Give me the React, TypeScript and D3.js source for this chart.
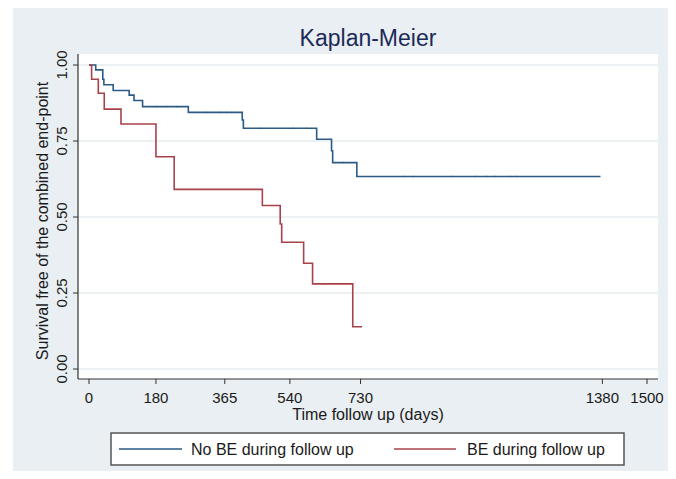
import * as d3 from 'd3';

// Kaplan-Meier estimates (days, survival)
const noBeTimes = [0, 18, 37, 40, 65, 108, 121, 144, 267, 412, 415, 612, 652, 655, 720, 1375];
const noBeSurv = [1, 0.984, 0.953, 0.935, 0.916, 0.901, 0.883, 0.863, 0.844, 0.819, 0.792, 0.756, 0.718, 0.679, 0.633, 0.633];
const noBeCensored = [182, 209, 236, 316, 352, 370, 460, 549, 585, 684, 845, 872, 975, 1038, 1069, 1091, 1132, 1150];

const beTimes = [0, 7, 25, 41, 86, 180, 229, 466, 514, 518, 577, 601, 709, 734];
const beSurv = [1, 0.953, 0.907, 0.855, 0.806, 0.698, 0.591, 0.538, 0.477, 0.417, 0.348, 0.28, 0.139, 0.139];
const beCensored = [634];

const xTicks = [0, 180, 365, 540, 730, 1380, 1500];
const yTicks = [0, 0.25, 0.5, 0.75, 1];
const seriesLabels = ['No BE during follow up', 'BE during follow up'];

const W = 676;
const H = 479;
const BLUE = '#2a5a86';
const RED = '#a8424a';
const FONT = '"Liberation Sans", Arial, Helvetica, sans-serif';

export default function App() {
  const plot = { left: 78, right: 658, top: 54, bottom: 379 };
  const x = d3.scaleLinear().domain([0, 1500]).range([89, 647]);
  const y = d3.scaleLinear().domain([0, 1]).range([369, 65]);

  const line = d3.line<[number, number]>()
    .x(d => x(d[0]))
    .y(d => y(d[1]))
    .curve(d3.curveStepAfter);

  const series = [
    { times: noBeTimes, surv: noBeSurv, cens: noBeCensored, color: BLUE },
    { times: beTimes, surv: beSurv, cens: beCensored, color: RED },
  ];

  // survival value at time t (step function)
  const survAt = (times: number[], surv: number[], t: number) => {
    let v = surv[0];
    times.forEach((tt, i) => { if (tt <= t) v = surv[i]; });
    return v;
  };

  const legendY = 449;

  return (
    <svg width={W} height={H} style={{ position: 'absolute', left: 0, top: 0, background: '#fff' }}>
      <rect x={13} y={8} width={655} height={463} fill="#e9eff2" />
      <rect x={plot.left} y={plot.top} width={plot.right - plot.left} height={plot.bottom - plot.top} fill="#fff" />

      {/* grid */}
      {yTicks.map(t => (
        <line key={'g' + t} x1={plot.left} x2={plot.right} y1={y(t)} y2={y(t)} stroke="#e6eef1" strokeWidth={1.5} />
      ))}

      {/* title */}
      <text x={(plot.left + plot.right) / 2} y={46} textAnchor="middle" fontFamily={FONT} fontSize={23} fill="#1c2a58">
        Kaplan-Meier
      </text>

      {/* curves */}
      {series.map((s, i) => (
        <g key={i}>
          <path
            d={line(s.times.map((t, j) => [t, s.surv[j]] as [number, number])) || ''}
            fill="none" stroke={s.color} strokeWidth={1.6}
          />
          {s.cens.map(c => {
            const v = survAt(s.times, s.surv, c);
            return <line key={c} x1={x(c)} x2={x(c)} y1={y(v) - 1} y2={y(v) + 1} stroke={s.color} strokeOpacity={0.6} strokeWidth={0.7} />;
          })}
        </g>
      ))}

      {/* axes */}
      <line x1={plot.left} x2={plot.left} y1={plot.top} y2={plot.bottom} stroke="#333" strokeWidth={1.2} />
      <line x1={plot.left} x2={plot.right} y1={plot.bottom} y2={plot.bottom} stroke="#333" strokeWidth={1.2} />

      {yTicks.map(t => (
        <g key={'y' + t}>
          <line x1={plot.left - 5} x2={plot.left} y1={y(t)} y2={y(t)} stroke="#333" strokeWidth={1} />
          <text
            transform={`translate(${plot.left - 11},${y(t)}) rotate(-90)`}
            textAnchor="middle" fontFamily={FONT} fontSize={15} fill="#1a1a1a"
          >
            {d3.format('.2f')(t)}
          </text>
        </g>
      ))}

      {xTicks.map(t => (
        <g key={'x' + t}>
          <line x1={x(t)} x2={x(t)} y1={plot.bottom} y2={plot.bottom + 5} stroke="#333" strokeWidth={1} />
          <text x={x(t)} y={403} textAnchor="middle" fontFamily={FONT} fontSize={15} fill="#1a1a1a">
            {t}
          </text>
        </g>
      ))}

      <text x={(plot.left + plot.right) / 2} y={420} textAnchor="middle" fontFamily={FONT} fontSize={16} fill="#1a1a1a">
        Time follow up (days)
      </text>
      <text
        transform={`translate(48,${(65 + 369) / 2 + 4}) rotate(-90)`}
        textAnchor="middle" fontFamily={FONT} fontSize={16} fill="#1a1a1a"
      >
        Survival free of the combined end-point
      </text>

      {/* legend */}
      <rect x={111} y={433} width={513} height={32} fill="#fff" stroke="#555" strokeWidth={1.5} />
      <line x1={119} x2={182} y1={legendY} y2={legendY} stroke={BLUE} strokeWidth={1.6} />
      <text x={191} y={legendY + 5.5} fontFamily={FONT} fontSize={16} fill="#1a1a1a">{seriesLabels[0]}</text>
      <line x1={394} x2={456} y1={legendY} y2={legendY} stroke={RED} strokeWidth={1.6} />
      <text x={467} y={legendY + 5.5} fontFamily={FONT} fontSize={16} fill="#1a1a1a">{seriesLabels[1]}</text>
    </svg>
  );
}
